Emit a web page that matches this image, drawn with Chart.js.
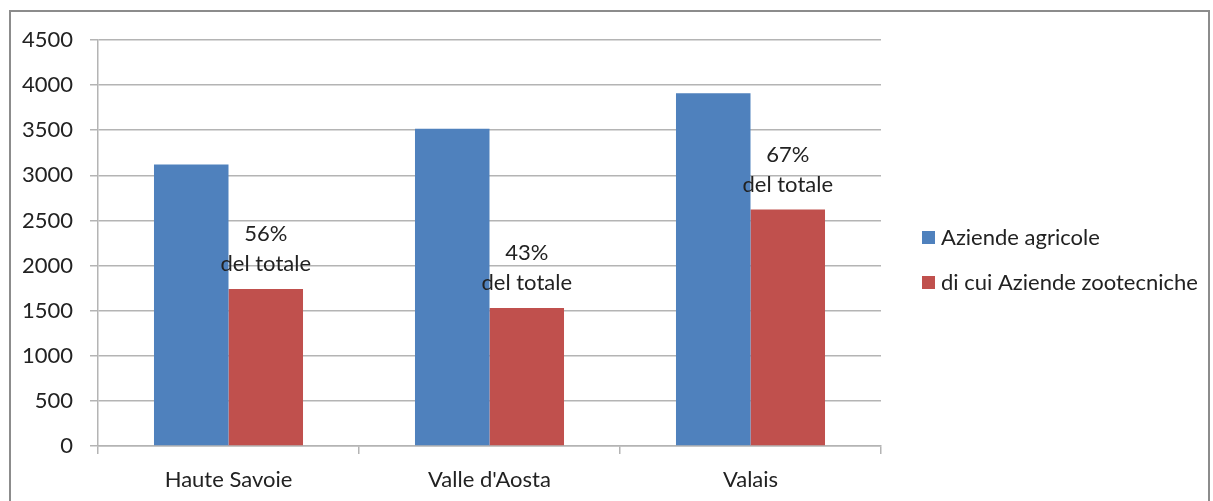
<!DOCTYPE html>
<html>
<head>
<meta charset="utf-8">
<script src="https://cdn.jsdelivr.net/npm/chart.js@4"></script>
<style>
  html, body { margin: 0; padding: 0; background: #fff; }
  #wrap { width: 1213px; height: 501px; position: relative; }
</style>
</head>
<body>
<div id="wrap"><canvas id="myChart" width="1213" height="501"></canvas></div>
<script>
const categories = ["Haute Savoie", "Valle d'Aosta", "Valais"]
const aziendeAgricole = [3120, 3515, 3910]
const aziendeZootecniche = [1740, 1530, 2620]
const percentLabels = ["56%", "43%", "67%"]
const yTicks = [0, 500, 1000, 1500, 2000, 2500, 3000, 3500, 4000, 4500]

const FONT = "Lato"
const FSIZE = 22
const TEXT = "#222"
const GRID = "#b4b4b4"

// frame, labels above the red bars, legend on the right
const extras = {
    id: "extras",
    beforeDraw(chart) {
        const ctx = chart.ctx
        ctx.save()
        ctx.fillStyle = "#fff"
        ctx.fillRect(0, 0, chart.width, chart.height)
        ctx.strokeStyle = "#8c8c8c"
        ctx.lineWidth = 2
        ctx.strokeRect(10, 11, 1199, 520)
        ctx.restore()
    },
    afterDatasetsDraw(chart) {
        const ctx = chart.ctx
        const meta = chart.getDatasetMeta(1)
        ctx.save()
        ctx.font = FSIZE + "px " + FONT
        ctx.fillStyle = TEXT
        ctx.textAlign = "center"
        ctx.textBaseline = "middle"
        meta.data.forEach((bar, i) => {
            ctx.fillText(percentLabels[i], bar.x, bar.y - 55)
            ctx.fillText("del totale", bar.x, bar.y - 25)
        })

        // legend
        const items = chart.data.datasets
        ctx.textAlign = "left"
        items.forEach((ds, i) => {
            const y = 238 + i * 45
            ctx.fillStyle = ds.backgroundColor
            ctx.fillRect(922, y - 7, 13, 13)
            ctx.fillStyle = TEXT
            ctx.fillText(ds.label, 941, y)
        })
        ctx.restore()
    }
}

new Chart(document.querySelector("#myChart"), {
    type: "bar",
    data: {
        labels: categories,
        datasets: [{
            label: "Aziende agricole",
            data: aziendeAgricole,
            backgroundColor: "#4f81bd",
            borderWidth: 0,
        }, {
            label: "di cui Aziende zootecniche",
            data: aziendeZootecniche,
            backgroundColor: "#c0504d",
            borderWidth: 0,
        }]
    },
    plugins: [extras],
    options: {
        responsive: false,
        animation: false,
        layout: {
            padding: { top: 40, right: 332, bottom: 0, left: 0 }
        },
        plugins: {
            legend: { display: false },
            tooltip: { enabled: false },
        },
        datasets: {
            bar: { categoryPercentage: 0.571, barPercentage: 1 }
        },
        scales: {
            x: {
                offset: true,
                grid: {
                    offset: true,
                    drawOnChartArea: false,
                    drawTicks: true,
                    tickLength: 8,
                    color: GRID,
                    lineWidth: 1.5,
                },
                border: { color: GRID, width: 1.5 },
                ticks: {
                    color: TEXT,
                    font: { family: FONT, size: FSIZE },
                    padding: 13,
                },
                afterFit: (scale) => { scale.height = 55 },
            },
            y: {
                min: 0,
                max: 4500,
                afterBuildTicks: (scale) => {
                    scale.ticks = yTicks.map(v => ({ value: v }))
                },
                grid: {
                    color: GRID,
                    lineWidth: 1.5,
                    tickLength: 8,
                },
                border: { color: GRID, width: 1.5 },
                ticks: {
                    color: TEXT,
                    font: { family: FONT, size: FSIZE },
                    padding: 17,
                    callback: (value) => String(value),
                },
                afterFit: (scale) => { scale.width = 98 },
            }
        }
    }
});
</script>
</body>
</html>
